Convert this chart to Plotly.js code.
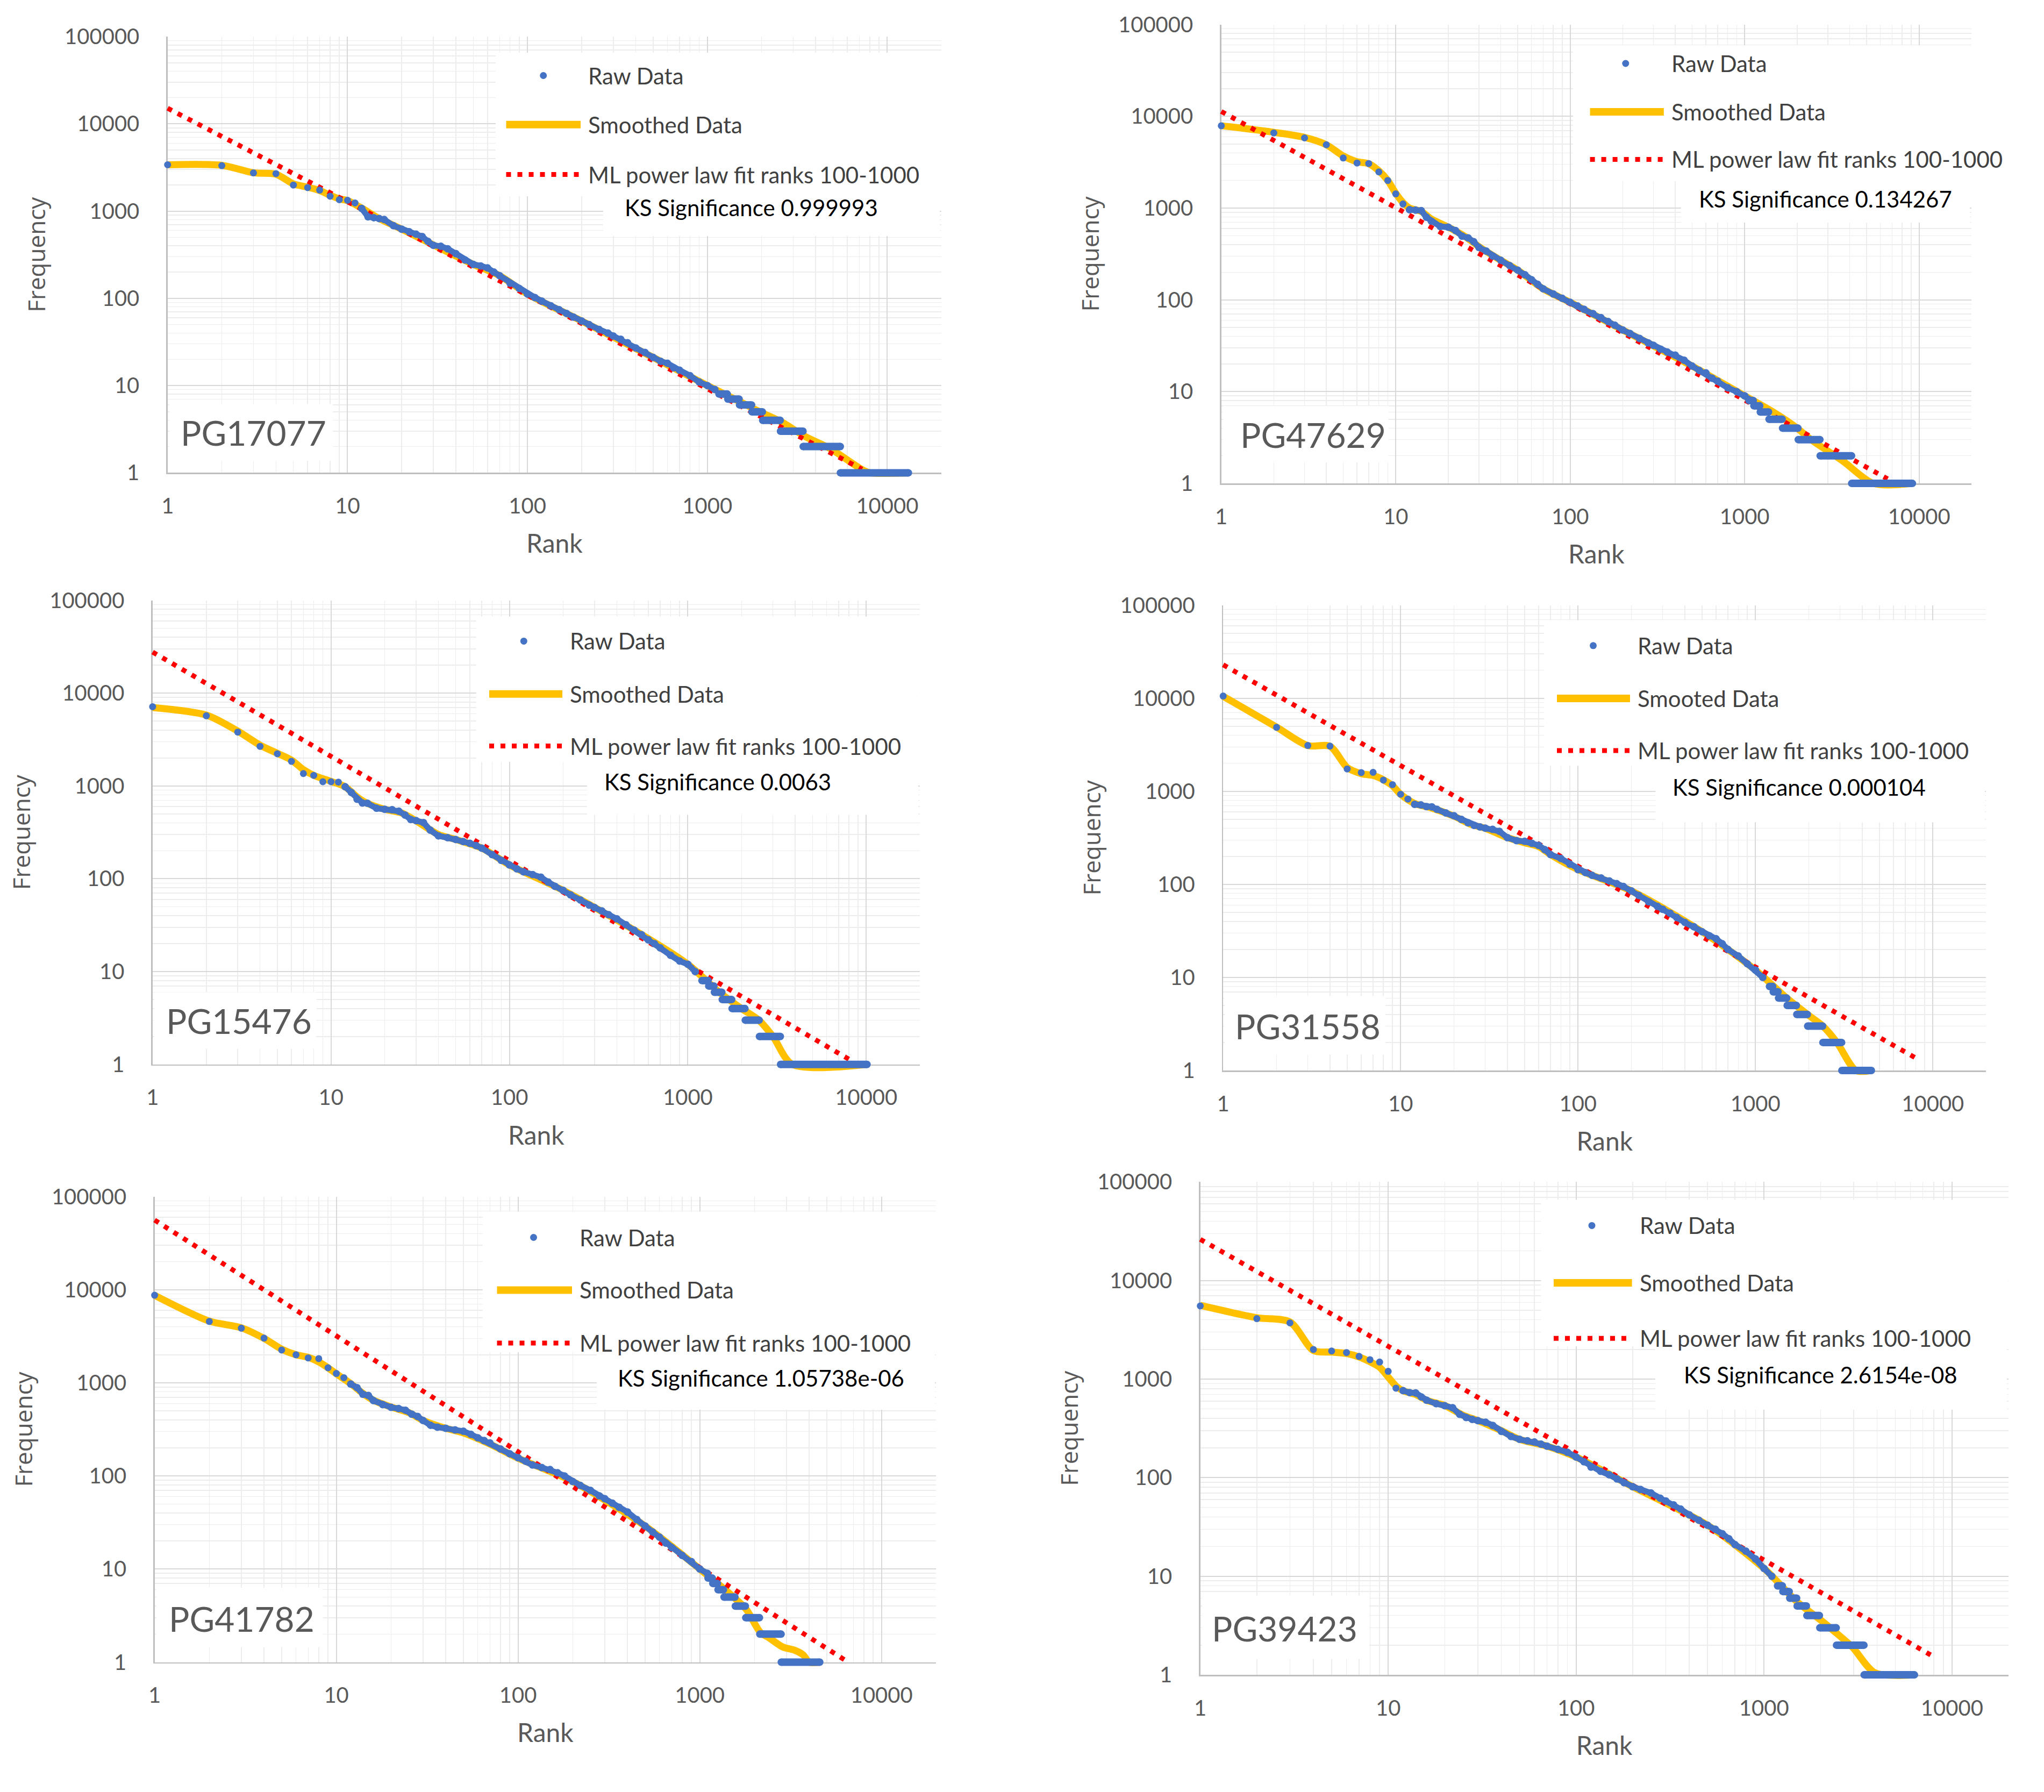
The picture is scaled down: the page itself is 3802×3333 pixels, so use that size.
<!DOCTYPE html>
<html><head><meta charset="utf-8">
<script src="https://cdn.plot.ly/plotly-3.0.1.min.js"></script>
<style>html,body{margin:0;padding:0;background:#fff;}#chart{width:3802px;height:3333px;}</style>
</head><body><div id="chart"></div>
<script>
// ---------------- DATA ----------------
const bookIds = ['PG17077','PG47629','PG15476','PG31558','PG41782','PG39423'];
const ksSignificance = ['0.999993','0.134267','0.0063','0.000104','1.05738e-06','2.6154e-08'];
const rawName = 'Raw Data';
const smoothedNames = ['Smoothed Data','Smoothed Data','Smoothed Data','Smooted Data','Smoothed Data','Smoothed Data'];
const fitName = 'ML power law fit ranks 100-1000';

const xTickVals = [1,10,100,1000,10000];
const xTickText = ['1','10','100','1000','10000'];
const yTickVals = [1,10,100,1000,10000,100000];
const yTickText = ['1','10','100','1000','10000','100000'];

// raw data: ranks (shared) and frequencies per book
const rawRank = [1,2,3,4,5,6,7,8,9,10,11,12,13,14,15,16,18,20,22,24,26,28,30,33,36,40,45,50,55,60,65,70,80,90,100,110,120,135,150,165,180,200,220,250,280,300,330,360,400,450,500,550,600,650,700,800,900,1000,1100];
const rawFreqPG17077 = [3400,3320,2740,2690,1990,1860,1740,1480,1350,1330,1240,1070,860,840,820,800,680,620,580,545,510,450,405,395,370,325,275,245,235,223,200,182,149,130,112,102,93,82,74,67,61,55,50,44,40,37,34,31,27,24,21,19,18,16,15,13,11,10,9];
const rawFreqPG47629 = [7890,6600,5820,4900,3520,3100,3060,2480,2000,1430,1110,960,950,940,795,720,630,620,570,495,473,430,372,340,300,270,236,211,188,166,148,132,116,104,94,86,79,71,64,58,53,47,43,38,34,32,29,27,25,22,19,17,16,14,13,11,10,9,8];
const rawFreqPG15476 = [7140,5700,3800,2670,2220,1840,1360,1300,1110,1110,1100,980,850,720,656,650,575,560,555,534,486,435,423,403,334,290,277,265,252,241,228,214,182,158,141,128,119,111,104,92,83,75,67,59,52,49,45,41,37,32,28,25,22,20,18,15,13,12,10];
const rawFreqPG31558 = [10570,4870,3110,3060,1740,1590,1600,1320,1180,930,826,725,716,685,680,642,585,547,499,460,430,414,402,390,372,318,295,290,276,263,236,209,190,165,144,134,125,117,109,102,95,85,76,65,58,54,49,44,39,35,31,28,26,23,20,17,14,12,10];
const rawFreqPG41782 = [8720,4560,3860,3020,2250,2000,1850,1820,1450,1260,1135,970,888,753,731,645,583,545,529,508,461,435,394,350,334,325,312,302,280,257,240,226,195,173,157,144,131,123,117,108,100,87,79,70,61,57,51,46,41,34,29,25,22,19,17,14,12,10,9];
const rawFreqPG39423 = [5530,4110,3720,2000,1930,1860,1700,1575,1490,1200,809,765,730,725,660,612,563,537,513,440,408,390,379,365,339,295,262,245,237,230,219,209,194,181,162,145,128,116,107,97,89,81,76,70,62,58,53,48,42,37,33,30,27,24,21,18,15,12,10];

// tail of the raw data: runs of equal frequency (first rank, last rank)
const runFreq = [8,7,6,5,4,3,2,1];
const runStartPG17077 = [1160,1300,1510,1770,2030,2550,3410,5490];
const runEndPG17077   = [1290,1500,1760,2020,2540,3400,5480,13100];
const runStartPG47629 = [1060,1130,1230,1380,1650,2030,2710,4110];
const runEndPG47629   = [1120,1220,1370,1640,2020,2700,4100,9150];
const runStartPG15476 = [1200,1310,1410,1560,1770,2100,2520,3310];
const runEndPG15476   = [1300,1400,1550,1760,2090,2510,3300,10100];
const runStartPG31558 = [1200,1260,1350,1510,1710,1970,2400,3070];
const runEndPG31558   = [1250,1340,1500,1700,1960,2390,3060,4500];
const runStartPG41782 = [1110,1180,1260,1360,1570,1790,2140,2810];
const runEndPG41782   = [1170,1250,1350,1560,1780,2130,2800,4570];
const runStartPG39423 = [1180,1260,1370,1500,1690,1980,2430,3410];
const runEndPG39423   = [1250,1360,1490,1680,1970,2420,3400,6310];

// smoothed data
const smoothRankPG17077 = [1,2,3,4,5,6,7,8,9,10,12,15,20,30,50,70,100,200,500,1000,1500,2000,2600,3500,4800,7300,8000,13100];
const smoothFreqPG17077 = [3400,3350,2750,2650,2050,1880,1720,1520,1380,1320,1080,820,620,410,245,182,112,55,21,10,6.6,4.9,3.8,2.6,1.9,1.08,1,1];
const smoothRankPG47629 = [1,2,3,4,5,6,7,8,9,10,11,12,14,16,20,25,30,40,50,70,100,200,500,1000,1500,2000,2400,3660,5470,9150];
const smoothFreqPG47629 = [7900,6700,5900,4900,3700,3200,3050,2550,2000,1450,1150,1000,920,760,620,490,380,270,211,132,94,47,19,9,5.8,4.0,3.0,1.75,1,1];
const smoothRankPG15476 = [1,2,3,4,5,6,7,8,10,12,14,16,20,25,30,40,50,70,100,200,500,1000,1500,2000,2500,3000,3860,10100];
const smoothFreqPG15476 = [7000,5800,3900,2750,2250,1900,1500,1300,1120,980,760,650,560,510,420,300,265,214,141,75,28,12,6,4,3,2,1,1];
const smoothRankPG31558 = [1,2,3,4,5,6,7,8,9,10,12,15,20,25,30,40,50,60,70,100,200,500,1000,1500,2000,2400,2880,3680,4500];
const smoothFreqPG31558 = [10500,4900,3100,3050,1800,1550,1480,1330,1150,930,740,660,540,440,400,318,280,255,209,144,85,31,12,6,3.9,3.0,2,1,1];
const smoothRankPG41782 = [1,2,3,4,5,6,7,8,9,10,12,14,16,20,25,30,40,50,70,100,200,500,1000,1500,1800,2150,2430,2870,3300,3700,4000,4570];
const smoothFreqPG41782 = [8700,4600,3900,3000,2300,2000,1880,1680,1450,1250,980,770,650,550,480,395,325,290,220,155,87,29,10,5.2,3.7,2.1,1.8,1.45,1.35,1.2,1,1];
const smoothRankPG39423 = [1,2,3,4,5,6,7,8,9,10,11,12,14,16,20,25,30,40,50,70,100,200,500,1000,1500,2000,2400,2960,3890,6310];
const smoothFreqPG39423 = [5600,4200,3800,1950,1880,1820,1680,1500,1320,1050,850,760,700,610,540,430,380,300,245,209,162,81,33,12,5.5,3.6,2.7,1.9,1.05,1];

// ML power-law fit (end points of the fitted straight line)
const fitRankPG17077 = [1,7240],  fitFreqPG17077 = [15100,1.1];
const fitRankPG47629 = [1,6600],  fitFreqPG47629 = [11300,1.12];
const fitRankPG15476 = [1,8240],  fitFreqPG15476 = [27700,1.1];
const fitRankPG31558 = [1,8070],  fitFreqPG31558 = [22900,1.35];
const fitRankPG41782 = [1,6560],  fitFreqPG41782 = [56000,1.0];
const fitRankPG39423 = [1,7850],  fitFreqPG39423 = [26200,1.56];

// ---------------- ASSEMBLY ----------------
const rawFreqs = [rawFreqPG17077,rawFreqPG47629,rawFreqPG15476,rawFreqPG31558,rawFreqPG41782,rawFreqPG39423];
const runStarts = [runStartPG17077,runStartPG47629,runStartPG15476,runStartPG31558,runStartPG41782,runStartPG39423];
const runEnds = [runEndPG17077,runEndPG47629,runEndPG15476,runEndPG31558,runEndPG41782,runEndPG39423];
const smoothRanks = [smoothRankPG17077,smoothRankPG47629,smoothRankPG15476,smoothRankPG31558,smoothRankPG41782,smoothRankPG39423];
const smoothFreqs = [smoothFreqPG17077,smoothFreqPG47629,smoothFreqPG15476,smoothFreqPG31558,smoothFreqPG41782,smoothFreqPG39423];
const fitRanks = [fitRankPG17077,fitRankPG47629,fitRankPG15476,fitRankPG31558,fitRankPG41782,fitRankPG39423];
const fitFreqs = [fitFreqPG17077,fitFreqPG47629,fitFreqPG15476,fitFreqPG31558,fitFreqPG41782,fitFreqPG39423];

const W = 3802, H = 3333;
const fx = x => x / W, fy = y => 1 - y / H;

// panel geometry (pixels): plot area, legend box, KS box, legend rows, label box
const geom = [
 {L:311.8,R:1750.8,T:68.1,B:879.4, box:[922,98,1751,365], ks:[1122,365,1748,439], mk:[1010.7,140.5], tx:1092, rows:[140.5,231.8,324.5], lx:[941.5,1080], kc:[1397.7,386.3], pg:[315,751.6,619,857], pt:[333.7,804]},
 {L:2271.7,R:3667,T:45.7,B:899.1, box:[2925.6,84.3,3667,337], ks:[3126.7,337,3664,414], mk:[3023.8,118], tx:3106.6, rows:[118,208,296.4], lx:[2957.6,3094.8], kc:[3395,370], pg:[2275,755,2582.7,860], pt:[2304.8,809]},
 {L:283.9,R:1710.8,T:1116.5,B:1979.8, box:[885.7,1146.7,1710.8,1417], ks:[1092,1417,1708,1515.5], mk:[974.3,1192.4], tx:1058, rows:[1192.4,1290.7,1387.6], lx:[910,1046], kc:[1334.6,1454.4], pg:[287,1845.6,588.5,1951], pt:[307,1898.3]},
 {L:2275.2,R:3694.3,T:1125.7,B:1991, box:[2872.4,1153.8,3694.3,1424.2], ks:[3079.4,1424,3692,1529.5], mk:[2963.5,1200.8], tx:3044, rows:[1200.8,1299,1396], lx:[2896,3032], kc:[3346.7,1464.2], pg:[2278,1852.6,2577,1961.5], pt:[2295,1908.8]},
 {L:287.6,R:1741.1,T:2225.6,B:3091.5, box:[897.8,2253.6,1741,2515], ks:[1110,2515,1739,2621.8], mk:[992.5,2301.5], tx:1076, rows:[2301.5,2399.4,2498], lx:[924.5,1064], kc:[1415,2562.9], pg:[291,2953,600.6,3063.6], pt:[311.8,3010.5]},
 {L:2232.6,R:3735.7,T:2198.4,B:3115.1, box:[2866.5,2231.5,3735.7,2504], ks:[3079,2504,3733,2621.8], mk:[2961,2279.4], tx:3047.5, rows:[2279.4,2386,2489.2], lx:[2890,3035.6], kc:[3386.9,2557], pg:[2236,2967.8,2547,3085.6], pt:[2251.6,3028.2]}
];

const BLUE = '#4472C4', YELLOW = '#FFC000', RED = '#FF0000', GREY = '#595959';
const HEAD_END_RANK = 12; // beyond this rank the raw points overlap into a continuous band
const data = [];
const layout = {
  width: W, height: H, margin: {l:0, r:0, t:0, b:0},
  paper_bgcolor: '#ffffff', plot_bgcolor: '#ffffff',
  showlegend: false, hovermode: false,
  shapes: [], annotations: []
};

bookIds.forEach((id, i) => {
  const g = geom[i];
  const xid = 'x' + (i ? i + 1 : ''), yid = 'y' + (i ? i + 1 : '');
  const xk = 'xaxis' + (i ? i + 1 : ''), yk = 'yaxis' + (i ? i + 1 : '');

  // run segments
  const rx = [], ry = [];
  runFreq.forEach((f, j) => { rx.push(runStarts[i][j], runEnds[i][j], null); ry.push(f, f, null); });
  // raw points split into sparse head and dense body
  const hx = [], hy = [], bx = [], by = [];
  rawRank.forEach((r, k) => {
    if (r <= HEAD_END_RANK) { hx.push(r); hy.push(rawFreqs[i][k]); }
    if (r >= HEAD_END_RANK) { bx.push(r); by.push(rawFreqs[i][k]); }
  });

  data.push({type:'scatter', mode:'lines', name: smoothedNames[i], x: smoothRanks[i], y: smoothFreqs[i], xaxis: xid, yaxis: yid,
    line:{color:YELLOW, width:13, shape:'spline', smoothing:0.8}, cliponaxis:false});
  data.push({type:'scatter', mode:'lines', name: fitName, x: fitRanks[i], y: fitFreqs[i], xaxis: xid, yaxis: yid,
    line:{color:RED, width:9, dash:'9px,12px'}, cliponaxis:false});
  data.push({type:'scatter', mode:'lines+markers', name: rawName, x: rx, y: ry, xaxis: xid, yaxis: yid, connectgaps:false,
    line:{color:BLUE, width:14}, marker:{color:BLUE, size:14}, cliponaxis:false});
  data.push({type:'scatter', mode:'lines+markers', name: rawName, x: bx, y: by, xaxis: xid, yaxis: yid,
    line:{color:BLUE, width:11}, marker:{color:BLUE, size:14}, cliponaxis:false});
  data.push({type:'scatter', mode:'markers', name: rawName, x: hx, y: hy, xaxis: xid, yaxis: yid,
    marker:{color:BLUE, size:13}, cliponaxis:false});

  const common = {
    type:'log', ticks:'', showline:true, linecolor:'#BFBFBF', linewidth:2.5, zeroline:false,
    layer:'below traces',
    showgrid:true, gridcolor:'#D9D9D9', gridwidth:2,
    minor:{dtick:'D1', showgrid:true, gridcolor:'#EDEDED', gridwidth:1.5},
    tickfont:{family:'Lato, sans-serif', size:40, color:GREY}, fixedrange:true, automargin:false
  };
  layout[xk] = Object.assign({}, common, {
    range:[0, 4.3], domain:[fx(g.L), fx(g.R)], anchor: yid,
    tickmode:'array', tickvals:xTickVals, ticktext:xTickText, ticklabelstandoff:25,
    title:{text:'Rank', font:{family:'Lato, sans-serif', size:48, color:GREY}, standoff:32}
  });
  layout[yk] = Object.assign({}, common, {
    range:[0, 5], domain:[fy(g.B), fy(g.T)], anchor: xid,
    tickmode:'array', tickvals:yTickVals, ticktext:yTickText, ticklabelstandoff:42,
    title:{text:'Frequency', font:{family:'Open Sans, sans-serif', size:44, color:GREY}, standoff:22}
  });

  const rect = (b) => ({type:'rect', xref:'paper', yref:'paper', layer:'above',
    x0:fx(b[0]), x1:fx(b[2]), y0:fy(b[3]), y1:fy(b[1]), fillcolor:'#ffffff', line:{width:0}});
  layout.shapes.push(rect(g.box), rect(g.ks), rect(g.pg));
  // legend symbols
  const r = 6.5;
  layout.shapes.push({type:'circle', xref:'paper', yref:'paper', layer:'above',
    x0:fx(g.mk[0]-r), x1:fx(g.mk[0]+r), y0:fy(g.mk[1]+r), y1:fy(g.mk[1]-r), fillcolor:BLUE, line:{width:0}});
  layout.shapes.push({type:'line', xref:'paper', yref:'paper', layer:'above',
    x0:fx(g.lx[0]), x1:fx(g.lx[1]), y0:fy(g.rows[1]), y1:fy(g.rows[1]), line:{color:YELLOW, width:14}});
  layout.shapes.push({type:'line', xref:'paper', yref:'paper', layer:'above',
    x0:fx(g.lx[0]), x1:fx(g.lx[1]), y0:fy(g.rows[2]), y1:fy(g.rows[2]), line:{color:RED, width:9, dash:'9px,12px'}});

  const legendFont = {family:'Lato, sans-serif', size:42, color:'#404040'};
  [rawName, smoothedNames[i], fitName].forEach((t, k) => {
    layout.annotations.push({xref:'paper', yref:'paper', x:fx(g.tx), y:fy(g.rows[k]), xanchor:'left', yanchor:'middle',
      text:t, showarrow:false, font:legendFont});
  });
  layout.annotations.push({xref:'paper', yref:'paper', x:fx(g.kc[0]), y:fy(g.kc[1]), xanchor:'center', yanchor:'middle',
    text:'KS Significance ' + ksSignificance[i], showarrow:false, font:{family:'Lato, sans-serif', size:42, color:'#000000'}});
  layout.annotations.push({xref:'paper', yref:'paper', x:fx(g.pt[0]), y:fy(g.pt[1]), xanchor:'left', yanchor:'middle',
    text:id, showarrow:false, font:{family:'Lato, sans-serif', size:64, color:GREY}});
});

Plotly.newPlot('chart', data, layout, {staticPlot:true, displayModeBar:false}).then(gd => {
  // like the spreadsheet original, let the data marks overhang the axis lines
  gd.querySelectorAll('.scatterlayer [clip-path], .scatterlayer').forEach(el => el.removeAttribute('clip-path'));
  gd.querySelectorAll('.cartesianlayer .plot').forEach(el => el.removeAttribute('clip-path'));
});
</script>
</body></html>
